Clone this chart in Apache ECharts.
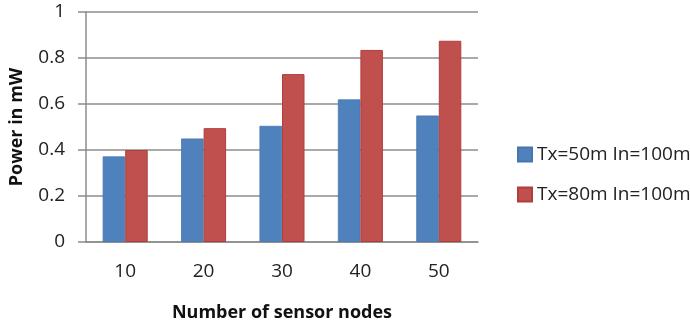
<!DOCTYPE html>
<html><head><meta charset="utf-8">
<script src="https://cdn.jsdelivr.net/npm/echarts@6/dist/echarts.min.js"></script>
<style>html,body{margin:0;padding:0;background:#fff}#c{width:690px;height:327px}</style>
</head><body><div id="c"></div>
<script>
var categories = ['10', '20', '30', '40', '50'];
var seriesNames = ['Tx=50m In=100m', 'Tx=80m In=100m'];
var tx50 = [0.372, 0.45, 0.505, 0.62, 0.55];
var tx80 = [0.40, 0.495, 0.73, 0.835, 0.875];
var yTicks = [0, 0.2, 0.4, 0.6, 0.8, 1];

var FONT = 'Open Sans';
var chart = echarts.init(document.getElementById('c'), null, {renderer: 'canvas'});
chart.setOption({
  animation: false,
  backgroundColor: '#fff',
  grid: {left: 83, right: 212, top: 12, bottom: 77, containLabel: false},
  legend: {
    orient: 'vertical', left: 512, top: 140, itemWidth: 14, itemHeight: 14, itemGap: 21,
    icon: 'rect',
    textStyle: {fontFamily: FONT, fontSize: 19, color: '#222'},
    data: seriesNames
  },
  xAxis: {
    type: 'category', data: categories,
    name: 'Number of sensor nodes', nameLocation: 'middle', nameGap: 62,
    nameTextStyle: {fontFamily: FONT, fontSize: 18, fontWeight: 'bold', color: '#111'},
    axisLine: {lineStyle: {color: '#8c8c8c', width: 1.5}},
    axisTick: {show: false},
    axisLabel: {fontFamily: FONT, fontSize: 19, color: '#222', margin: 20}
  },
  yAxis: {
    type: 'value', min: 0, max: 1, interval: 0.2,
    name: 'Power in mW', nameLocation: 'middle', nameGap: 60, nameRotate: 90,
    nameTextStyle: {fontFamily: FONT, fontSize: 18, fontWeight: 'bold', color: '#111'},
    axisLine: {show: true, lineStyle: {color: '#8c8c8c', width: 1.5}},
    axisTick: {show: true, length: 8, lineStyle: {color: '#8c8c8c', width: 1.5}},
    splitLine: {lineStyle: {color: '#8c8c8c', width: 1.5}},
    axisLabel: {fontFamily: FONT, fontSize: 19, color: '#222', margin: 21,
      formatter: function (v) { var r = Math.round(v * 10) / 10; return yTicks.indexOf(r) >= 0 ? String(r) : ''; }}
  },
  series: [
    {name: seriesNames[0], type: 'bar', data: tx50, barWidth: 22.5, barGap: '0%',
      itemStyle: {color: '#4F81BD', borderColor: '#4676b0', borderWidth: 0.8}},
    {name: seriesNames[1], type: 'bar', data: tx80, barWidth: 22.5, barGap: '0%',
      itemStyle: {color: '#C0504D', borderColor: '#b03f3c', borderWidth: 1}}
  ]
});
</script></body></html>
